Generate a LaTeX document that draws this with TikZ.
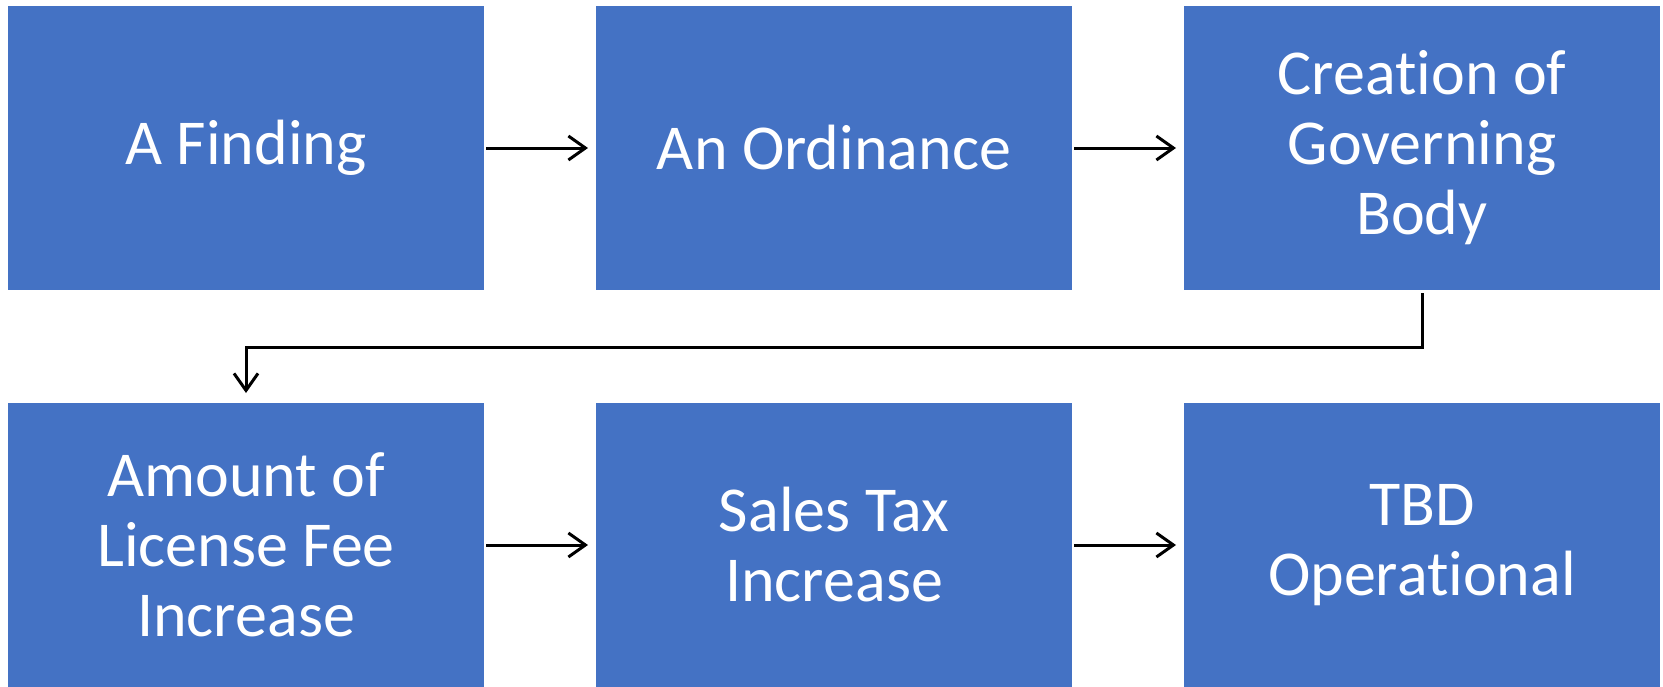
\documentclass[tikz,border=0pt]{standalone}
\usepackage{fontspec}
\setmainfont[Ligatures=CommonOff]{Carlito}
\usepackage{xcolor}
\usetikzlibrary{positioning,arrows.meta}
\definecolor{stepblue}{HTML}{4472C4}

\begin{document}
\begin{tikzpicture}[x=1pt, y=1pt,
    stepbox/.style={fill=stepblue, text=white, draw=none, minimum width=476pt, minimum height=284pt,
      inner sep=0pt, outer sep=0pt, align=center, font=\fontsize{64}{70}\selectfont},
    flow/.style={black, line width=3pt, -{Straight Barb[length=17pt, width=24pt, line width=3pt]}}]
  \useasboundingbox (0,0) rectangle (1663,-686);
  \node[stepbox, anchor=north west] (finding) at (8,-6) {A Finding};
  \node[stepbox, right=112pt of finding] (ordinance) {An Ordinance};
  \node[stepbox, right=112pt of ordinance] (body) {Creation of\\Governing\\Body};
  \node[stepbox, below=113pt of finding] (fee) {Amount of\\License Fee\\Increase};
  \node[stepbox, right=112pt of fee] (tax) {Sales Tax\\Increase};
  \node[stepbox, right=112pt of tax] (tbd) {TBD\\Operational};
  \draw[flow, shorten <=2pt, shorten >=8pt] (finding) -- (ordinance);
  \draw[flow, shorten <=2pt, shorten >=8pt] (ordinance) -- (body);
  \draw[flow, shorten <=3pt, shorten >=10pt] (body.south) -- ++(0,-57) -| (fee.north);
  \draw[flow, shorten <=2pt, shorten >=8pt] (fee) -- (tax);
  \draw[flow, shorten <=2pt, shorten >=8pt] (tax) -- (tbd);
\end{tikzpicture}
\end{document}
